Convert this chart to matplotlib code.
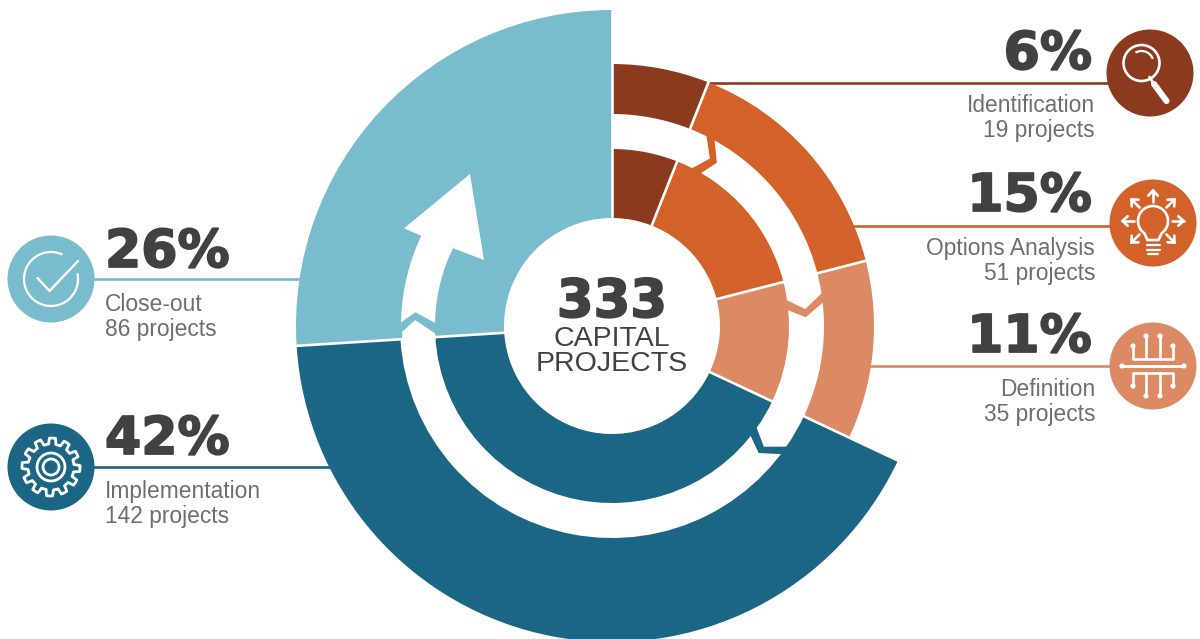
import numpy as np
import matplotlib
matplotlib.use("Agg")
import matplotlib.pyplot as plt
import matplotlib.patheffects as pe
from matplotlib.patches import Arc, Circle, Polygon, Wedge

# Capital projects per stage, clockwise from twelve o'clock
STAGES = ["Identification", "Options Analysis", "Definition", "Implementation", "Close-out"]
COUNTS = [19, 51, 35, 142, 86]
SHARES = [6, 15, 11, 42, 26]
COLORS = ["#8b3a1e", "#d2622a", "#dc8a63", "#1b6585", "#78bcce"]
TOTAL_LABEL = "333"

DARK = "#414042"
GREY = "#6d6e71"

CX, CY = 612, 326
R_HOLE, R_INNER, R_GAP, R_OUTER, R_BIG = 108, 177, 212, 262, 316

# x, percent baseline, first label baseline, line y, badge x, badge y
LAYOUT = {
    "Identification":   (1092, 69, 112, 83, 1150, 73),
    "Options Analysis": (1092, 211, 255, 226, 1153, 223),
    "Definition":       (1092, 352, 396, 366, 1153, 366),
    "Implementation":   (105, 454, 498, 467, 51, 467),
    "Close-out":        (105, 267, 311, 279, 51, 279),
}
RIM = {"Identification": R_OUTER, "Options Analysis": R_OUTER, "Definition": R_OUTER,
       "Implementation": R_BIG, "Close-out": R_BIG}

HEAVY = [pe.withStroke(linewidth=1.3, foreground=DARK)]


def pt(theta, r):
    """Position for a clockwise angle from the top, on the ring centre."""
    t = np.radians(theta)
    return CX + r * np.sin(t), CY - r * np.cos(t)


def ring(ax, a0, a1, r_in, r_out, color, z=2):
    ax.add_patch(Wedge((CX, CY), r_out, a0 - 90, a1 - 90, width=r_out - r_in,
                       facecolor=color, edgecolor="none", zorder=z))


def stroke(ax, xs, ys, lw=1.9, cap="round"):
    ax.plot(xs, ys, color="white", lw=lw, solid_capstyle=cap,
            solid_joinstyle="round", zorder=6)


def arrow_icon(ax, x0, y0, x1, y1):
    stroke(ax, [x0, x1], [y0, y1])
    ang = np.arctan2(y1 - y0, x1 - x0)
    for d in (2.4, -2.4):
        stroke(ax, [x1, x1 + 7 * np.cos(ang + d)], [y1, y1 + 7 * np.sin(ang + d)])


def icon_search(ax, x, y):
    ax.add_patch(Circle((x - 8.5, y - 10), 18, fill=False, ec="white", lw=1.9, zorder=6))
    ax.add_patch(Arc((x - 8.5, y - 10), 24, 24, theta1=-120, theta2=-20,
                     ec="white", lw=1.6, zorder=6))
    stroke(ax, [x - 0.5, x + 4], [y + 4, y + 11])
    stroke(ax, [x + 4, x + 16.5], [y + 11, y + 28], lw=4.4)


def icon_bulb(ax, x, y):
    a = np.radians(np.linspace(125, 415, 50))
    xs = x + 15 * np.cos(a)
    ys = y - 2 + 15 * np.sin(a)
    stroke(ax, np.r_[x - 5.5, xs, x + 5.5, x - 5.5], np.r_[y + 17, ys, y + 17, y + 17])
    for dy, half in ((22, 6.5), (26.5, 6.5), (31, 5)):
        stroke(ax, [x - half, x + half], [y + dy, y + dy], lw=1.6)
    for deg in (0, 45, 135, 180, 225, 270, 315):
        c, s = np.cos(np.radians(deg)), np.sin(np.radians(deg))
        arrow_icon(ax, x + 19 * c, y - 2 + 19 * s, x + 30.5 * c, y - 2 + 30.5 * s)


def icon_circuit(ax, x, y):
    stroke(ax, [x - 31, x + 31], [y, y], lw=2.1)
    for sign in (-1, 1):
        bus = y + sign * 7
        stroke(ax, [x - 20, x - 20, x + 20, x + 20],
               [y + sign * 20, bus, bus, y + sign * 20])
        for dx in (-7, 7):
            stroke(ax, [x + dx, x + dx], [bus, y + sign * 30])
        for dx, dy in ((-20, 20), (20, 20), (-7, 30), (7, 30)):
            ax.add_patch(Circle((x + dx, y + sign * dy), 2.6, fc="white", ec="none", zorder=6))
    for dx in (-31, 31):
        ax.add_patch(Circle((x + dx, y), 2.6, fc="white", ec="none", zorder=6))


def icon_check(ax, x, y):
    ax.add_patch(Arc((x, y), 54, 54, theta1=-12, theta2=295, ec="white", lw=1.6, zorder=6))
    stroke(ax, [x - 13.5, x - 1.5, x + 27], [y - 1, y + 12, y - 18], lw=1.7)


def icon_gear(ax, x, y):
    teeth = 12
    a = np.linspace(0, 2 * np.pi, 721)
    # Trapezoid tooth profile around the rim
    phase = (a * teeth / (2 * np.pi) + 0.1) % 1
    r = np.where(phase < 0.4, 29, np.where(phase < 0.5, 29 - (phase - 0.4) / 0.1 * 6,
                 np.where(phase < 0.9, 23, 23 + (phase - 0.9) / 0.1 * 6)))
    stroke(ax, x + r * np.cos(a), y + r * np.sin(a), lw=2.0)
    for rad in (14, 8):
        ax.add_patch(Circle((x, y), rad, fill=False, ec="white", lw=2.0, zorder=6))


def make_figure():
    fig = plt.figure(figsize=(12, 6.39), dpi=100)
    ax = fig.add_axes([0, 0, 1, 1])
    ax.set_xlim(0, 1200)
    ax.set_ylim(639, 0)
    ax.axis("off")

    edges = np.r_[0, np.cumsum(SHARES)] / sum(SHARES) * 360
    spans = list(zip(edges[:-1], edges[1:]))

    # Two rings on the right, wider outer ring for implementation, solid close-out
    for i, (a0, a1) in enumerate(spans):
        if i == 4:
            ring(ax, a0, a1, R_HOLE, R_BIG, COLORS[i])
        else:
            ring(ax, a0, a1, R_HOLE, R_INNER, COLORS[i])
            ring(ax, a0, a1, R_GAP, R_BIG if i == 3 else R_OUTER, COLORS[i])

    # Chevrons joining each stage to the next, angle is where the tip sits
    for i, tip in enumerate((30.3, 85.0, 128.5)):
        shape = [pt(tip - 4.2, R_GAP + 2), pt(tip - 1.7, R_GAP + 2), pt(tip + 2.4, 194),
                 pt(tip - 0.4, R_INNER - 2), pt(tip - 3.8, R_INNER - 2), pt(tip, 194)]
        ax.add_patch(Polygon(shape, closed=True, fc=COLORS[i + 1], ec="none", zorder=3))

    # Gap end and return arrow cut out of the close-out wedge
    close_a0 = edges[4]
    gap_end = [pt(close_a0 - 1, R_GAP - 2), pt(close_a0 + 2, R_GAP - 2), pt(close_a0 + 5.3, 197),
               pt(close_a0 + 1.2, R_INNER), pt(close_a0 - 1, R_INNER)]
    ax.add_patch(Polygon(gap_end, closed=True, fc="white", ec="none", zorder=3))

    a = np.linspace(296, 271, 30)
    shaft = [pt(x, 211) for x in a] + [pt(274, 197)] + [pt(x, R_INNER) for x in a[::-1]]
    ax.add_patch(Polygon(shaft, closed=True, fc="white", ec="none", zorder=3))
    head = [(453.3, 248.3), (484, 260), (470, 174), (404, 228.3), (421.7, 236)]
    ax.add_patch(Polygon(head, closed=True, fc="white", ec="none", zorder=3))

    # White hairlines between the sectors
    limits = [R_BIG, R_OUTER + 1, R_OUTER + 1, R_BIG + 1, R_BIG + 4]
    for edge, lim in zip(edges[:5], limits):
        x0, y0 = pt(edge, R_HOLE - 2)
        x1, y1 = pt(edge, lim)
        ax.plot([x0, x1], [y0, y1], color="white", lw=1.9, solid_capstyle="butt", zorder=4)

    # Leader lines, badges and labels
    for name, n, share, color in zip(STAGES, COUNTS, SHARES, COLORS):
        tx, y_pct, y_lab, y_line, bx, by = LAYOUT[name]
        reach = np.sqrt(RIM[name] ** 2 - (y_line - CY) ** 2) - 4
        end = CX + reach if bx > CX else CX - reach
        ax.plot([bx, end], [y_line, y_line], color=color, lw=1.9, solid_capstyle="butt", zorder=1)
        ax.add_patch(Circle((bx, by), 43.5, fc=color, ec="none", zorder=5))
        ha = "left" if tx < CX else "right"
        ax.text(tx, y_pct, f"{share}%", ha=ha, va="baseline", fontsize=37.5, color=DARK,
                family="DejaVu Sans", fontweight="bold", path_effects=HEAVY)
        lab_x = tx if ha == "left" else tx + 3
        ax.text(lab_x, y_lab, name, ha=ha, va="baseline", fontsize=16.4, color=GREY,
                family="Liberation Sans")
        ax.text(lab_x, y_lab + 25, f"{n} projects", ha=ha, va="baseline", fontsize=16.4,
                color=GREY, family="Liberation Sans")

    icon_search(ax, *LAYOUT["Identification"][4:])
    icon_bulb(ax, *LAYOUT["Options Analysis"][4:])
    icon_circuit(ax, *LAYOUT["Definition"][4:])
    icon_gear(ax, *LAYOUT["Implementation"][4:])
    icon_check(ax, *LAYOUT["Close-out"][4:])

    # Total in the hole
    ax.text(CX, 317, TOTAL_LABEL, ha="center", va="baseline", fontsize=38, color=DARK,
            family="DejaVu Sans", fontweight="bold", path_effects=HEAVY, zorder=7)
    ax.text(CX, 346, "CAPITAL", ha="center", va="baseline", fontsize=20.5, color=DARK,
            family="Liberation Sans", zorder=7)
    ax.text(CX, 371, "PROJECTS", ha="center", va="baseline", fontsize=20.5, color=DARK,
            family="Liberation Sans", zorder=7)
    return fig


fig = make_figure()
fig.savefig("out.png", dpi=100, facecolor="white")
